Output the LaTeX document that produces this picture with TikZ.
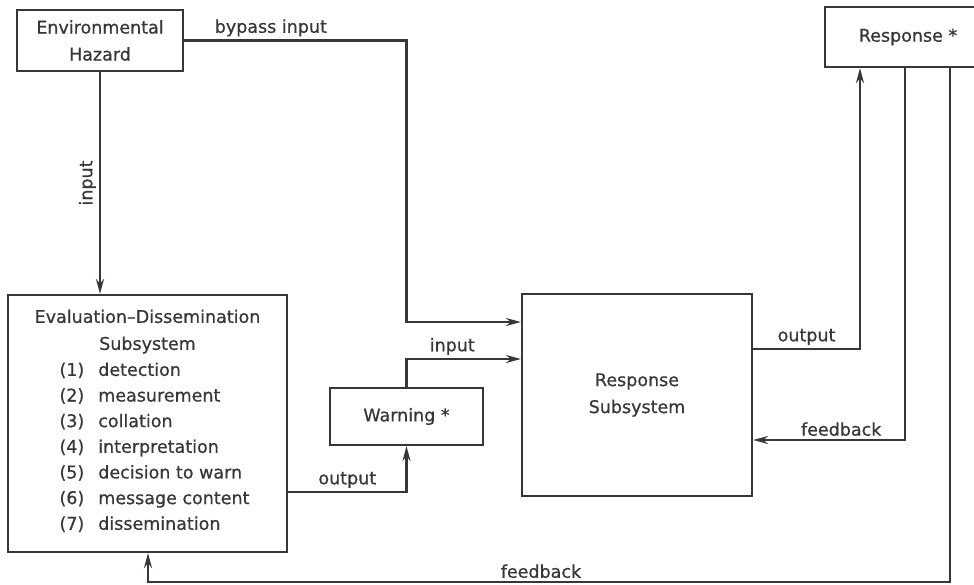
\documentclass[tikz,border=0pt]{standalone}
\usepackage{fontspec}
\setmainfont[FakeBold=0.6]{DejaVu Sans}
\usetikzlibrary{arrows.meta,positioning,calc}
\definecolor{inkgray}{RGB}{55,55,55}

\tikzset{
  box/.style={draw=inkgray, line width=2.2pt, fill=white, inner sep=0pt, align=center, text=inkgray},
  flow/.style={draw=inkgray, line width=2.2pt, -{Stealth[length=15pt,width=8pt]}},
  lbl/.style={text=inkgray, inner sep=3pt}
}

\begin{document}
\begin{tikzpicture}[x=1pt, y=-1pt, font=\fontsize{17.5}{27}\selectfont]
    \useasboundingbox (0,0) rectangle (974,584);
    \clip (0,0) rectangle (974,584);
    % Boxes
    \node[box, minimum width=166pt, minimum height=61pt] (hazard) at (100,40.5) {Environmental\\Hazard};
    \node[box, minimum width=279pt, minimum height=257pt] (eval) at (147.5,423.5)
        {Evaluation--Dissemination\\Subsystem\\[-1pt]%
         \def\arraystretch{0.95}%
         \begin{tabular}[t]{@{\hspace{14pt}}l@{\hspace{14pt}}l@{}}
         (1) & detection\\
         (2) & measurement\\
         (3) & collation\\
         (4) & interpretation\\
         (5) & decision to warn\\
         (6) & message content\\
         (7) & dissemination
         \end{tabular}};
    \node[box, minimum width=153pt, minimum height=57pt] (warning) at (406.5,416.5) {Warning *};
    \node[box, minimum width=230pt, minimum height=202pt] (respsub) at (637,395) {Response\\Subsystem};
    \node[box, minimum width=166pt, minimum height=60pt] (response) at (908,37) {Response *};

    % Inputs
    \draw[flow] (hazard.south) -- (hazard.south |- eval.north)
        node[lbl, midway, rotate=90, anchor=south] {input};
    \coordinate (bypassin) at ($(respsub.west)+(0,-73)$);
    \draw[flow] (hazard.east) -- node[lbl, above, pos=0.39] {bypass input} (hazard.east -| warning.north)
        -- (bypassin -| warning.north) -- (bypassin);
    \draw[flow] (warning.north) |- node[lbl, above, pos=0.7] {input} ($(respsub.west)+(0,-36)$);

    % Outputs
    \draw[flow] ($(eval.east)+(0,68.5)$) -| node[lbl, above, pos=0.25] {output} (warning.south);
    \draw[flow] ($(respsub.east)+(0,-46)$) -| node[lbl, above, pos=0.25] {output} ($(response.south)+(-48,0)$);

    % Feedback
    \draw[flow] ($(response.south)+(-3,0)$) |- node[lbl, above, pos=0.71] {feedback} ($(respsub.east)+(0,45)$);
    \draw[flow] ($(response.south)+(42,0)$) -- ++(0,514)
        -| node[lbl, above, pos=0.255] {feedback} ($(eval.south)+(0.5,0)$);
\end{tikzpicture}
\end{document}
